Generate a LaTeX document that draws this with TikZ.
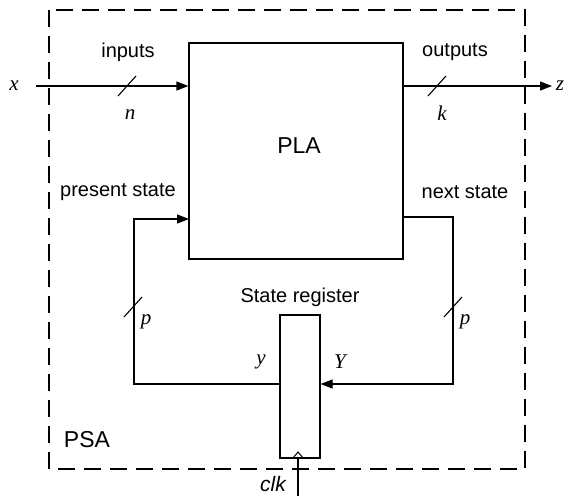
\documentclass[tikz,border=0pt]{standalone}
\usepackage{fontspec}
\setmainfont{Liberation Sans}
\newfontfamily\tms{Liberation Serif}
\usetikzlibrary{arrows.meta}
\begin{document}
\begin{tikzpicture}[x=1pt,y=-1pt,
  wire/.style={line width=1.2pt},
  arr/.style={wire,-{Triangle[length=12pt,width=9pt]}},
  blk/.style={draw,line width=1.2pt,inner sep=0pt},
  lbl/.style={font=\fontsize{20}{24}\selectfont,inner sep=0pt},
  big/.style={font=\fontsize{23}{28}\selectfont,inner sep=0pt},
  var/.style={font=\fontsize{21}{25}\selectfont\tms\itshape,inner sep=0pt},
  slashmark/.style={line width=1.1pt}]
\useasboundingbox (0,0) rectangle (565,496);
% PSA dashed boundary
\draw[line width=1.1pt,dash pattern=on 17pt off 9pt] (49,10) rectangle (525,469);
% blocks
\node[blk,minimum width=214pt,minimum height=216pt] (pla) at (296,151) {};
\node[big] (plalbl) at (299,146) {PLA};
\node[blk,minimum width=40pt,minimum height=143pt] (reg) at (300,386.5) {};
\node[lbl] (reglbl) at (300,297) {State register};
% coordinates
\coordinate (xin) at (36,86);
\coordinate (zout) at (552,86);
\coordinate (psin) at (189,219);
\coordinate (nsout) at (403,217);
\coordinate (lc1) at (134,219);
\coordinate (lc2) at (134,384);
\coordinate (rc1) at (453,217);
\coordinate (rc2) at (453,384);
\coordinate (clkin) at (298,496);
% input / output
\draw[arr] (xin) -- (xin -| pla.west);
\draw[arr] (zout -| pla.east) -- (zout);
% feedback
\draw[arr] (reg.west |- lc2) -- (lc2) -- (lc1) -- (psin);
\draw[arr] (nsout) -- (rc1) -- (rc2) -- (reg.east |- rc2);
% clock
\draw[wire] (clkin) -- (reg.south -| clkin);
\draw[line width=1pt] (293,458) -- (298,452) -- (303,458);
% bus slashes
\foreach \c in {(127,86),(437,86),(133,307),(453,307)}
  \draw[slashmark] \c ++(-9,10) -- ++(18,-20);
% labels
\node[var] (xl) at (14,86) {x};
\node[var] (zl) at (560,86) {z};
\node[lbl] (inl) at (128,52) {inputs};
\node[lbl] (outl) at (455,52) {outputs};
\node[var] (nl) at (130,115) {n};
\node[var] (kl) at (442,113) {k};
\node[lbl] (psl) at (118,192) {present state};
\node[lbl] (nsl) at (465,192) {next state};
\node[var] (pl1) at (146,322) {p};
\node[var] (pl2) at (465,322) {p};
\node[var] (yl) at (261,362) {y};
\node[var] (Yl) at (340,362) {Y};
\node[big] (psa) at (87,440) {PSA};
\node[font=\fontsize{21}{25}\selectfont\itshape,inner sep=0pt] (clkl) at (273,484) {clk};
\end{tikzpicture}
\end{document}
